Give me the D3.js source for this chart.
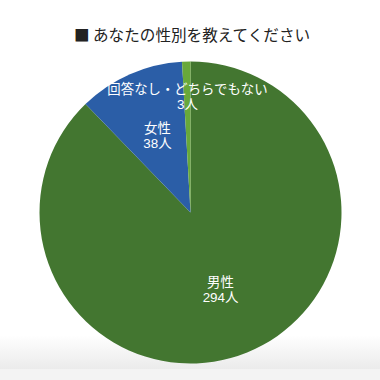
<!DOCTYPE html>
<html><head><meta charset="utf-8">
<script src="https://cdn.jsdelivr.net/npm/d3@7"></script>
<style>body{margin:0;background:#fff}svg{display:block}</style>
</head><body>
<svg id="c" width="380" height="380"></svg>
<script>
const title = "■ あなたの性別を教えてください";
const categories = ["男性", "女性", "回答なし・どちらでもない"];
const values = [294, 38, 3];
const units = "人";
const colors = ["#437630", "#2b5ea7", "#68a83a"];

const svg = d3.select("#c");
const defs = svg.append("defs");
const g = defs.append("linearGradient").attr("id","bg").attr("x1",0).attr("y1",0).attr("x2",0).attr("y2",1);
g.append("stop").attr("offset","0").attr("stop-color","#ffffff");
g.append("stop").attr("offset","1").attr("stop-color","#ebebeb");
svg.append("rect").attr("x",0).attr("y",335).attr("width",380).attr("height",34).attr("fill","url(#bg)");
svg.append("rect").attr("x",0).attr("y",369).attr("width",380).attr("height",11).attr("fill","#f3f3f3");

svg.append("text").attr("x",192).attr("y",41).attr("text-anchor","middle")
  .attr("font-family","'Noto Sans CJK JP', sans-serif").attr("font-size",15.6).attr("fill","#222")
  .text(title);

const cx = 190.5, cy = 212.5, r = 151;
const pie = d3.pie().sort(null).value(d => d)(values);
const arc = d3.arc().innerRadius(0).outerRadius(r);
const gp = svg.append("g").attr("transform",`translate(${cx},${cy})`);
gp.selectAll("path").data(pie).join("path").attr("d",arc).attr("fill",(d,i)=>colors[i]);

const labelFont = "'Liberation Sans', 'Noto Sans CJK JP', sans-serif";
const labelPos = [[30, 77], [-33, -77], [-3, -116]];
const lab = gp.selectAll("g.l").data(pie).join("g").attr("class","l")
  .attr("transform",(d,i)=>`translate(${labelPos[i][0]},${labelPos[i][1]})`);
lab.append("text").attr("text-anchor","middle").attr("y",-3)
  .attr("font-family",labelFont).attr("font-size",13.4).attr("fill","#fff")
  .text((d,i)=>categories[i]);
lab.append("text").attr("text-anchor","middle").attr("y",12)
  .attr("font-family",labelFont).attr("font-size",13.4).attr("fill","#fff")
  .text((d,i)=>values[i]+units);
</script>
</body></html>
